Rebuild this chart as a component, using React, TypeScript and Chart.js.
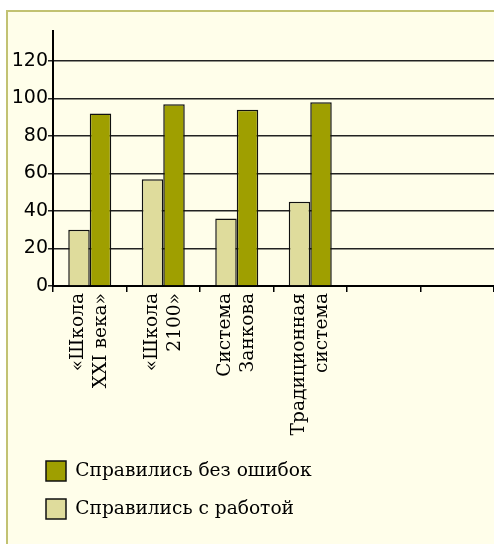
import React, { useEffect, useRef } from "react";
import { Chart, registerables } from "chart.js";

Chart.register(...registerables);

const categories: string[][] = [
  ["«Школа", "XXI века»"],
  ["«Школа", "2100»"],
  ["Система", "Занкова"],
  ["Традиционная", "система"],
  ["", ""],
  ["", ""],
];
const completedLabel = "Справились с работой";
const noErrorsLabel = "Справились без ошибок";
const completedValues: (number | null)[] = [30, 57, 36, 45, null, null];
const noErrorsValues: (number | null)[] = [92, 97, 94, 98, null, null];
const yMax = 136;
const yStep = 20;

const legendShift = {
  id: "legendShift",
  afterLayout(chart: any) {
    if (chart.legend) chart.legend.left += 28;
  },
};

export default function App() {
  const ref = useRef<HTMLCanvasElement | null>(null);
  useEffect(() => {
    if (!ref.current) return;
    const chart = new Chart(ref.current, {
      type: "bar",
      data: {
        labels: categories,
        datasets: [
          {
            label: completedLabel,
            data: completedValues,
            backgroundColor: "#dfdc9c",
            borderColor: "#111",
            borderWidth: 1.5,
            categoryPercentage: 0.585,
            barPercentage: 1,
          },
          {
            label: noErrorsLabel,
            data: noErrorsValues,
            backgroundColor: "#9f9f00",
            borderColor: "#111",
            borderWidth: 1.5,
            categoryPercentage: 0.585,
            barPercentage: 1,
          },
        ],
      },
      options: {
        responsive: false,
        animation: false,
        layout: { padding: { top: 31, bottom: 15, left: 0, right: 0 } },
        plugins: {
          tooltip: { enabled: false },
          legend: {
            position: "bottom",
            align: "start",
            reverse: true,
            labels: {
              boxWidth: 20,
              boxHeight: 20,
              padding: 18,
              color: "#000",
              font: { family: "'DejaVu Serif', serif", size: 18.6 },
            },
          },
        },
        scales: {
          x: {
            offset: true,
            grid: {
              display: true,
              drawOnChartArea: false,
              drawTicks: true,
              tickLength: 6,
              color: "#000",
              lineWidth: 1.5,
              offset: true,
            },
            border: { display: true, color: "#000", width: 2 },
            ticks: {
              autoSkip: false,
              maxRotation: 90,
              minRotation: 90,
              padding: 1,
              labelOffset: -11.5,
              color: "#000",
              font: { family: "'DejaVu Serif', serif", size: 18.6, lineHeight: 1.24 },
            },
            afterFit: (scale: any) => {
              scale.height = 157;
              scale.paddingLeft = 0;
              scale.paddingRight = 0;
            },
          },
          y: {
            min: 0,
            max: yMax,
            grid: {
              color: "#222",
              lineWidth: 1.5,
              tickLength: 5,
              drawTicks: true,
            },
            border: { display: true, color: "#000", width: 2 },
            ticks: {
              stepSize: yStep,
              includeBounds: false,
              padding: 0,
              color: "#000",
              font: { family: "'DejaVu Sans', sans-serif", size: 19 },
            },
            afterFit: (scale: any) => {
              scale.width = 53;
            },
          },
        },
      },
      plugins: [legendShift],
    });
    return () => chart.destroy();
  }, []);

  return (
    <div style={{ position: "absolute", left: 0, top: 0, width: 494, height: 544, background: "#fff", overflow: "hidden" }}>
      <div
        style={{
          position: "absolute",
          left: 6,
          top: 10,
          width: 520,
          height: 560,
          background: "#fffeea",
          borderLeft: "2px solid #c2c272",
          borderTop: "2px solid #c2c272",
        }}
      />
      <canvas ref={ref} width={494} height={544} style={{ position: "absolute", left: 0, top: 0 }} />
    </div>
  );
}
